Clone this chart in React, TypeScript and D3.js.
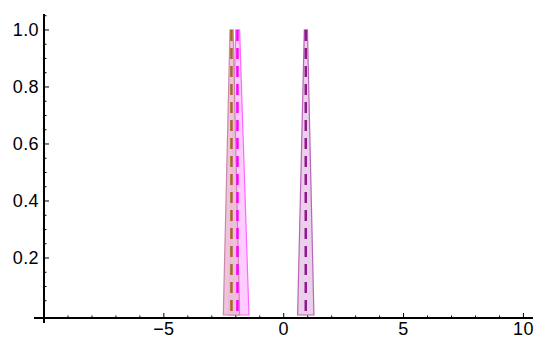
import React from "react";
import * as d3 from "d3";

const seriesNames = ["brown", "magenta", "purple"];
const centers = [-2.18, -1.93, 0.92];
const baseLeft = [-2.52, -2.3, 0.58];
const baseRight = [-1.84, -1.45, 1.26];
const topLeft = [-2.24, -2.0, 0.86];
const topRight = [-2.11, -1.84, 0.99];
const peakValues = [1.0, 1.0, 1.0];

const xTickValues = [-10, -5, 0, 5, 10];
const xTickLabels = ["", "\u22125", "0", "5", "10"];
const yTickValues = [0.2, 0.4, 0.6, 0.8, 1.0];
const yTickLabels = ["0.2", "0.4", "0.6", "0.8", "1.0"];

const fills = ["#ecbcd8", "#ffc6ff", "#e8cbe8"];
const edges = ["#c98aa8", "#ff66ff", "#b865b8"];
const dashColors = ["#a3662c", "#ff00ff", "#8e1a8e"];

const FONT = "'Liberation Sans', Arial, Helvetica, sans-serif";

export default function App() {
  const W = 535, H = 338;
  const x = d3.scaleLinear().domain([-10, 10.4]).range([44, 533]);
  const y = d3.scaleLinear().domain([-0.0105, 1.056]).range([318, 14]);
  const line = d3.line<[number, number]>().x(d => x(d[0])).y(d => y(d[1]));

  const order = [1, 0, 2];
  const xMinor = d3.range(-10, 11, 1);
  const yMinor = d3.range(0.05, 1.051, 0.05);

  return (
    <svg width={W} height={H} style={{ position: "absolute", left: 0, top: 0 }}>
      <rect width={W} height={H} fill="#fff" />
      {order.map(i => {
        const poly: [number, number][] = [
          [baseLeft[i], 0], [topLeft[i], peakValues[i]], [topRight[i], peakValues[i]], [baseRight[i], 0],
        ];
        return (
          <g key={seriesNames[i]}>
            <path d={line(poly) + "Z"} fill={fills[i]} fillOpacity={0.9} stroke={edges[i]} strokeWidth={1.2} />
          </g>
        );
      })}
      {order.map(i => (
        <line key={"d" + i} x1={x(centers[i])} x2={x(centers[i])} y1={y(peakValues[i])} y2={y(0)}
          stroke={dashColors[i]} strokeWidth={2.5} strokeDasharray="11,7" />
      ))}
      <line x1={34} x2={533} y1={318} y2={318} stroke="#000" strokeWidth={2.2} />
      <line x1={x(-10)} x2={x(-10)} y1={14} y2={323} stroke="#000" strokeWidth={2} />
      {xMinor.map(v => (
        <line key={"xm" + v} x1={x(v)} x2={x(v)} y1={318} y2={xTickValues.includes(v) ? 313 : 315.5} stroke="#000" strokeWidth={1} />
      ))}
      {yMinor.map(v => {
        const major = yTickValues.some(t => Math.abs(t - v) < 1e-6);
        return <line key={"ym" + v} x1={44} x2={major ? 49 : 46.5} y1={y(v)} y2={y(v)} stroke="#000" strokeWidth={1} />;
      })}
      {xTickValues.map((v, i) => (
        <text key={"xl" + v} x={x(v)} y={335} textAnchor="middle" fontFamily={FONT} fontSize={18} fill="#000" letterSpacing={0.4}>{xTickLabels[i]}</text>
      ))}
      {yTickValues.map((v, i) => (
        <text key={"yl" + v} x={39} y={y(v)} dy="0.36em" textAnchor="end" fontFamily={FONT} fontSize={18} fill="#000" letterSpacing={0.4}>{yTickLabels[i]}</text>
      ))}
    </svg>
  );
}
